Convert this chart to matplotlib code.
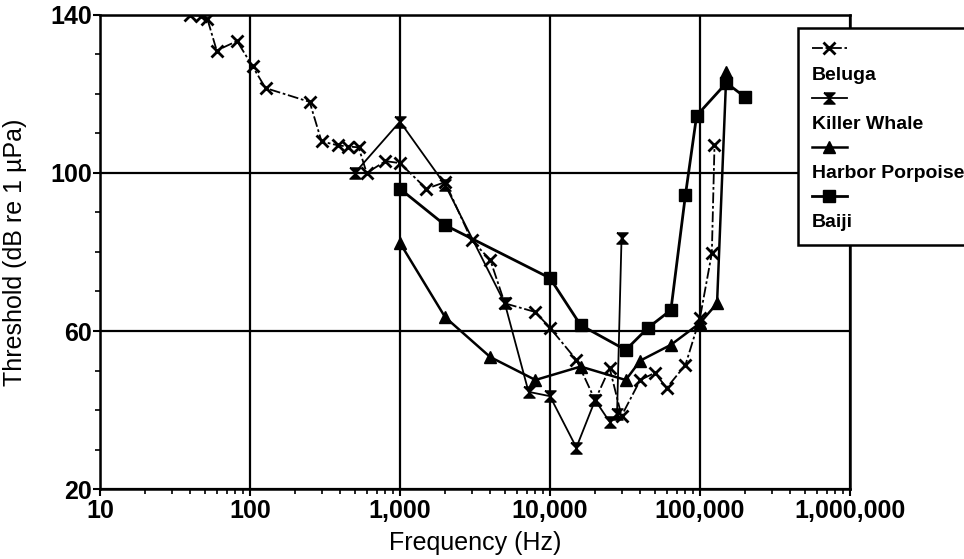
import matplotlib
matplotlib.use('Agg')
import matplotlib.pyplot as plt
from matplotlib.path import Path
from matplotlib.lines import Line2D
from matplotlib.ticker import FixedLocator, FuncFormatter, LogLocator, NullFormatter

plt.rcParams['font.family'] = ['Liberation Sans', 'DejaVu Sans']

# Audiogram values (Hz, dB re 1 uPa)
beluga_freq = [40, 47, 52, 60, 82, 104, 127, 250, 300, 385, 450, 530, 600, 800,
               1000, 1500, 2000, 3000, 4000, 5000, 8000, 10000, 15000, 20000,
               25000, 30000, 40000, 50000, 60000, 80000, 100000, 120000, 125000]
beluga_db = [140, 139.8, 139, 131, 133.4, 127, 121.5, 118, 108, 107, 106.7, 106.5, 100, 103,
             102.5, 96, 97.7, 83, 78, 67, 64.8, 60.8, 52.7, 42.5,
             50.6, 38.5, 47.6, 49.4, 45.6, 51.4, 63.3, 79.7, 107]

killer_freq = [500, 1000, 2000, 5000, 7200, 10000, 15000, 20000, 25000, 28000, 30000]
killer_db = [100, 113, 97, 67, 44.6, 43.5, 30.5, 42.5, 37, 39, 83.5]

porpoise_freq = [1000, 2000, 4000, 8000, 16000, 32000, 40000, 64000, 100000, 130000, 150000]
porpoise_db = [82.3, 63.5, 53.4, 47.6, 51, 47.6, 52.5, 56.5, 62, 67, 125.5]

baiji_freq = [1000, 2000, 10000, 16000, 32000, 45000, 64000, 80000, 95000, 150000, 200000]
baiji_db = [96, 86.8, 73.4, 61.5, 55.2, 60.8, 65.3, 94.4, 114.5, 122.8, 119.2]

species = ['Beluga', 'Killer Whale', 'Harbor Porpoise', 'Baiji']
x_ticks = [10, 100, 1000, 10000, 100000, 1000000]
y_ticks = [20, 60, 100, 140]

# hourglass marker for the killer whale
hourglass = Path([(-1, 1), (1, 1), (-1, -1), (1, -1), (-1, 1)])

fig = plt.figure(figsize=(9.64, 5.59), dpi=100)
ax = fig.add_axes([0.1037, 0.1252, 0.778, 0.848])

l1, = ax.plot(beluga_freq, beluga_db, color='black', lw=1.3,
              linestyle=(0, (6, 1.5, 1.5, 1.5)), marker='x', ms=9, mew=2)
l2, = ax.plot(killer_freq, killer_db, color='black', lw=1.3,
              marker=hourglass, ms=8, mfc='black', mec='black')
l3, = ax.plot(porpoise_freq, porpoise_db, color='black', lw=1.8,
              marker='^', ms=8.5, mfc='black', mec='black')
l4, = ax.plot(baiji_freq, baiji_db, color='black', lw=2.0,
              marker='s', ms=9, mfc='black', mec='black')

ax.set_xscale('log')
ax.set_xlim(10, 1000000)
ax.set_ylim(20, 140)

ax.xaxis.set_major_locator(FixedLocator(x_ticks))
ax.xaxis.set_major_formatter(FuncFormatter(lambda v, p: '{:,}'.format(int(round(v)))))
ax.xaxis.set_minor_locator(LogLocator(base=10, subs=range(2, 10)))
ax.xaxis.set_minor_formatter(NullFormatter())
ax.yaxis.set_major_locator(FixedLocator(y_ticks))
ax.yaxis.set_minor_locator(FixedLocator(range(20, 141, 10)))

ax.tick_params(which='major', direction='out', length=5, width=1.5, labelsize=18)
ax.tick_params(axis='x', which='major', pad=2)
ax.tick_params(axis='y', which='major', pad=0.5)
ax.tick_params(which='minor', direction='out', length=3.5, width=1.2)
for lab in ax.get_xticklabels() + ax.get_yticklabels():
  lab.set_fontweight('bold')

ax.grid(True, which='major', color='black', linewidth=1.6)
ax.set_axisbelow(True)
for sp in ax.spines.values():
  sp.set_linewidth(1.8)

ax.set_xlabel('Frequency (Hz)', fontsize=18)
ax.set_ylabel('Threshold (dB re 1 \u00b5Pa)', fontsize=18)
ax.xaxis.set_label_coords(0.5, -0.088)
ax.yaxis.set_label_coords(-0.097, 0.5)

# Legend: sample line on one row, name on the row below
handles = []
labels = []
for h, name in zip([l1, l2, l3, l4], species):
  handles += [h, Line2D([], [], linestyle='none')]
  labels += ['', name]
leg = ax.legend(handles, labels, loc='upper left', bbox_to_anchor=(0.828, 0.950),
                bbox_transform=fig.transFigure, borderaxespad=0, fancybox=False,
                framealpha=1, edgecolor='black', handlelength=1.8, handletextpad=-1.8,
                labelspacing=0.36, borderpad=0.7, prop={'weight': 'bold', 'size': 14})
leg.get_frame().set_linewidth(1.8)

fig.savefig('out.png', dpi=100)
